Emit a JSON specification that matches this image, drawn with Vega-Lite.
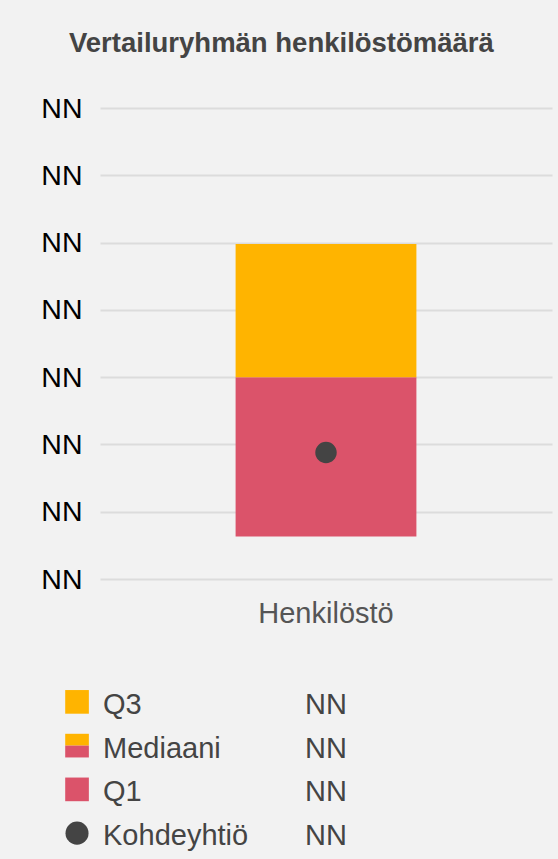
{
  "$schema": "https://vega.github.io/schema/vega-lite/v6.json",
  "background": "#f2f2f2",
  "padding": {"left": 40, "top": 29, "right": 7, "bottom": 10},
  "title": {
    "text": "Vertailuryhmän henkilöstömäärä",
    "font": "Liberation Sans",
    "fontSize": 27.5,
    "fontWeight": "bold",
    "color": "#444444",
    "anchor": "middle",
    "dx": -15,
    "offset": 37
  },
  "config": {
    "view": {"stroke": null},
    "font": "Liberation Sans"
  },
  "spacing": 52,
  "vconcat": [
    {
      "width": 452,
      "height": 471,
      "layer": [
        {
          "data": {
            "values": [
              {"category": "Henkilöstö", "series": "Q1", "start": 0.63, "end": 3.0},
              {"category": "Henkilöstö", "series": "Q3", "start": 3.0, "end": 4.98}
            ]
          },
          "mark": {"type": "bar", "width": {"band": 1}},
          "encoding": {
            "x": {
              "field": "category",
              "type": "nominal",
              "scale": {"paddingInner": 0.6, "paddingOuter": 0.3},
              "axis": {
                "title": null,
                "domain": false,
                "ticks": false,
                "labelAngle": 0,
                "labelFontSize": 29,
                "labelColor": "#555555",
                "labelPadding": 20
              }
            },
            "y": {
              "field": "start",
              "type": "quantitative",
              "scale": {"domain": [0, 7], "nice": false},
              "axis": {
                "title": null,
                "values": [0, 1, 2, 3, 4, 5, 6, 7],
                "labelExpr": "'NN'",
                "labelFontSize": 28.5,
                "labelColor": "#000000",
                "labelPadding": 18,
                "ticks": false,
                "domain": false,
                "gridColor": "#dcdcdc",
                "gridWidth": 2
              }
            },
            "y2": {"field": "end"},
            "color": {
              "field": "series",
              "type": "nominal",
              "scale": {"domain": ["Q3", "Q1", "Kohdeyhtiö"], "range": ["#ffb400", "#db536a", "#444444"]},
              "legend": null
            }
          }
        },
        {
          "data": {"values": [{"category": "Henkilöstö", "series": "Kohdeyhtiö", "value": 1.88}]},
          "mark": {"type": "point", "shape": "circle", "filled": true, "opacity": 1, "size": 460},
          "encoding": {
            "x": {"field": "category", "type": "nominal"},
            "y": {"field": "value", "type": "quantitative"},
            "color": {"field": "series", "type": "nominal"}
          }
        }
      ]
    },
    {
      "width": 208,
      "height": 175,
      "data": {
        "values": [
          {"key": "Q3", "value": "NN"},
          {"key": "Mediaani", "value": "NN"},
          {"key": "Q1", "value": "NN"},
          {"key": "Kohdeyhtiö", "value": "NN"}
        ]
      },
      "encoding": {
        "y": {
          "field": "key",
          "type": "nominal",
          "sort": ["Q3", "Mediaani", "Q1", "Kohdeyhtiö"],
          "scale": {"type": "point", "padding": 0.5},
          "axis": null
        }
      },
      "layer": [
        {
          "transform": [{"filter": "datum.key === 'Q3' || datum.key === 'Q1'"}],
          "mark": {"type": "point", "shape": "square", "filled": true, "opacity": 1, "size": 560, "xOffset": -26},
          "encoding": {
            "x": {"datum": "label", "type": "nominal", "scale": {"type": "point", "domain": ["label", "value"], "padding": 0.015}, "axis": null},
            "color": {
              "field": "key",
              "type": "nominal",
              "scale": {"domain": ["Q3", "Q1", "Kohdeyhtiö"], "range": ["#ffb400", "#db536a", "#444444"]},
              "legend": null
            }
          }
        },
        {
          "transform": [{"filter": "datum.key === 'Mediaani'"}],
          "mark": {"type": "point", "shape": "M-1,-1H1V0H-1Z", "filled": true, "opacity": 1, "size": 560, "color": "#ffb400", "xOffset": -26},
          "encoding": {"x": {"datum": "label", "type": "nominal"}}
        },
        {
          "transform": [{"filter": "datum.key === 'Mediaani'"}],
          "mark": {"type": "point", "shape": "M-1,0H1V1H-1Z", "filled": true, "opacity": 1, "size": 560, "color": "#db536a", "xOffset": -26},
          "encoding": {"x": {"datum": "label", "type": "nominal"}}
        },
        {
          "transform": [{"filter": "datum.key === 'Kohdeyhtiö'"}],
          "mark": {"type": "point", "shape": "circle", "filled": true, "opacity": 1, "size": 530, "color": "#444444", "xOffset": -26},
          "encoding": {"x": {"datum": "label", "type": "nominal"}}
        },
        {
          "mark": {"type": "text", "align": "left", "baseline": "middle", "fontSize": 29, "color": "#444444", "dy": 3},
          "encoding": {
            "x": {"datum": "label", "type": "nominal"},
            "text": {"field": "key"}
          }
        },
        {
          "mark": {"type": "text", "align": "left", "baseline": "middle", "fontSize": 29, "color": "#444444", "dy": 3},
          "encoding": {
            "x": {"datum": "value", "type": "nominal"},
            "text": {"field": "value"}
          }
        }
      ]
    }
  ]
}
